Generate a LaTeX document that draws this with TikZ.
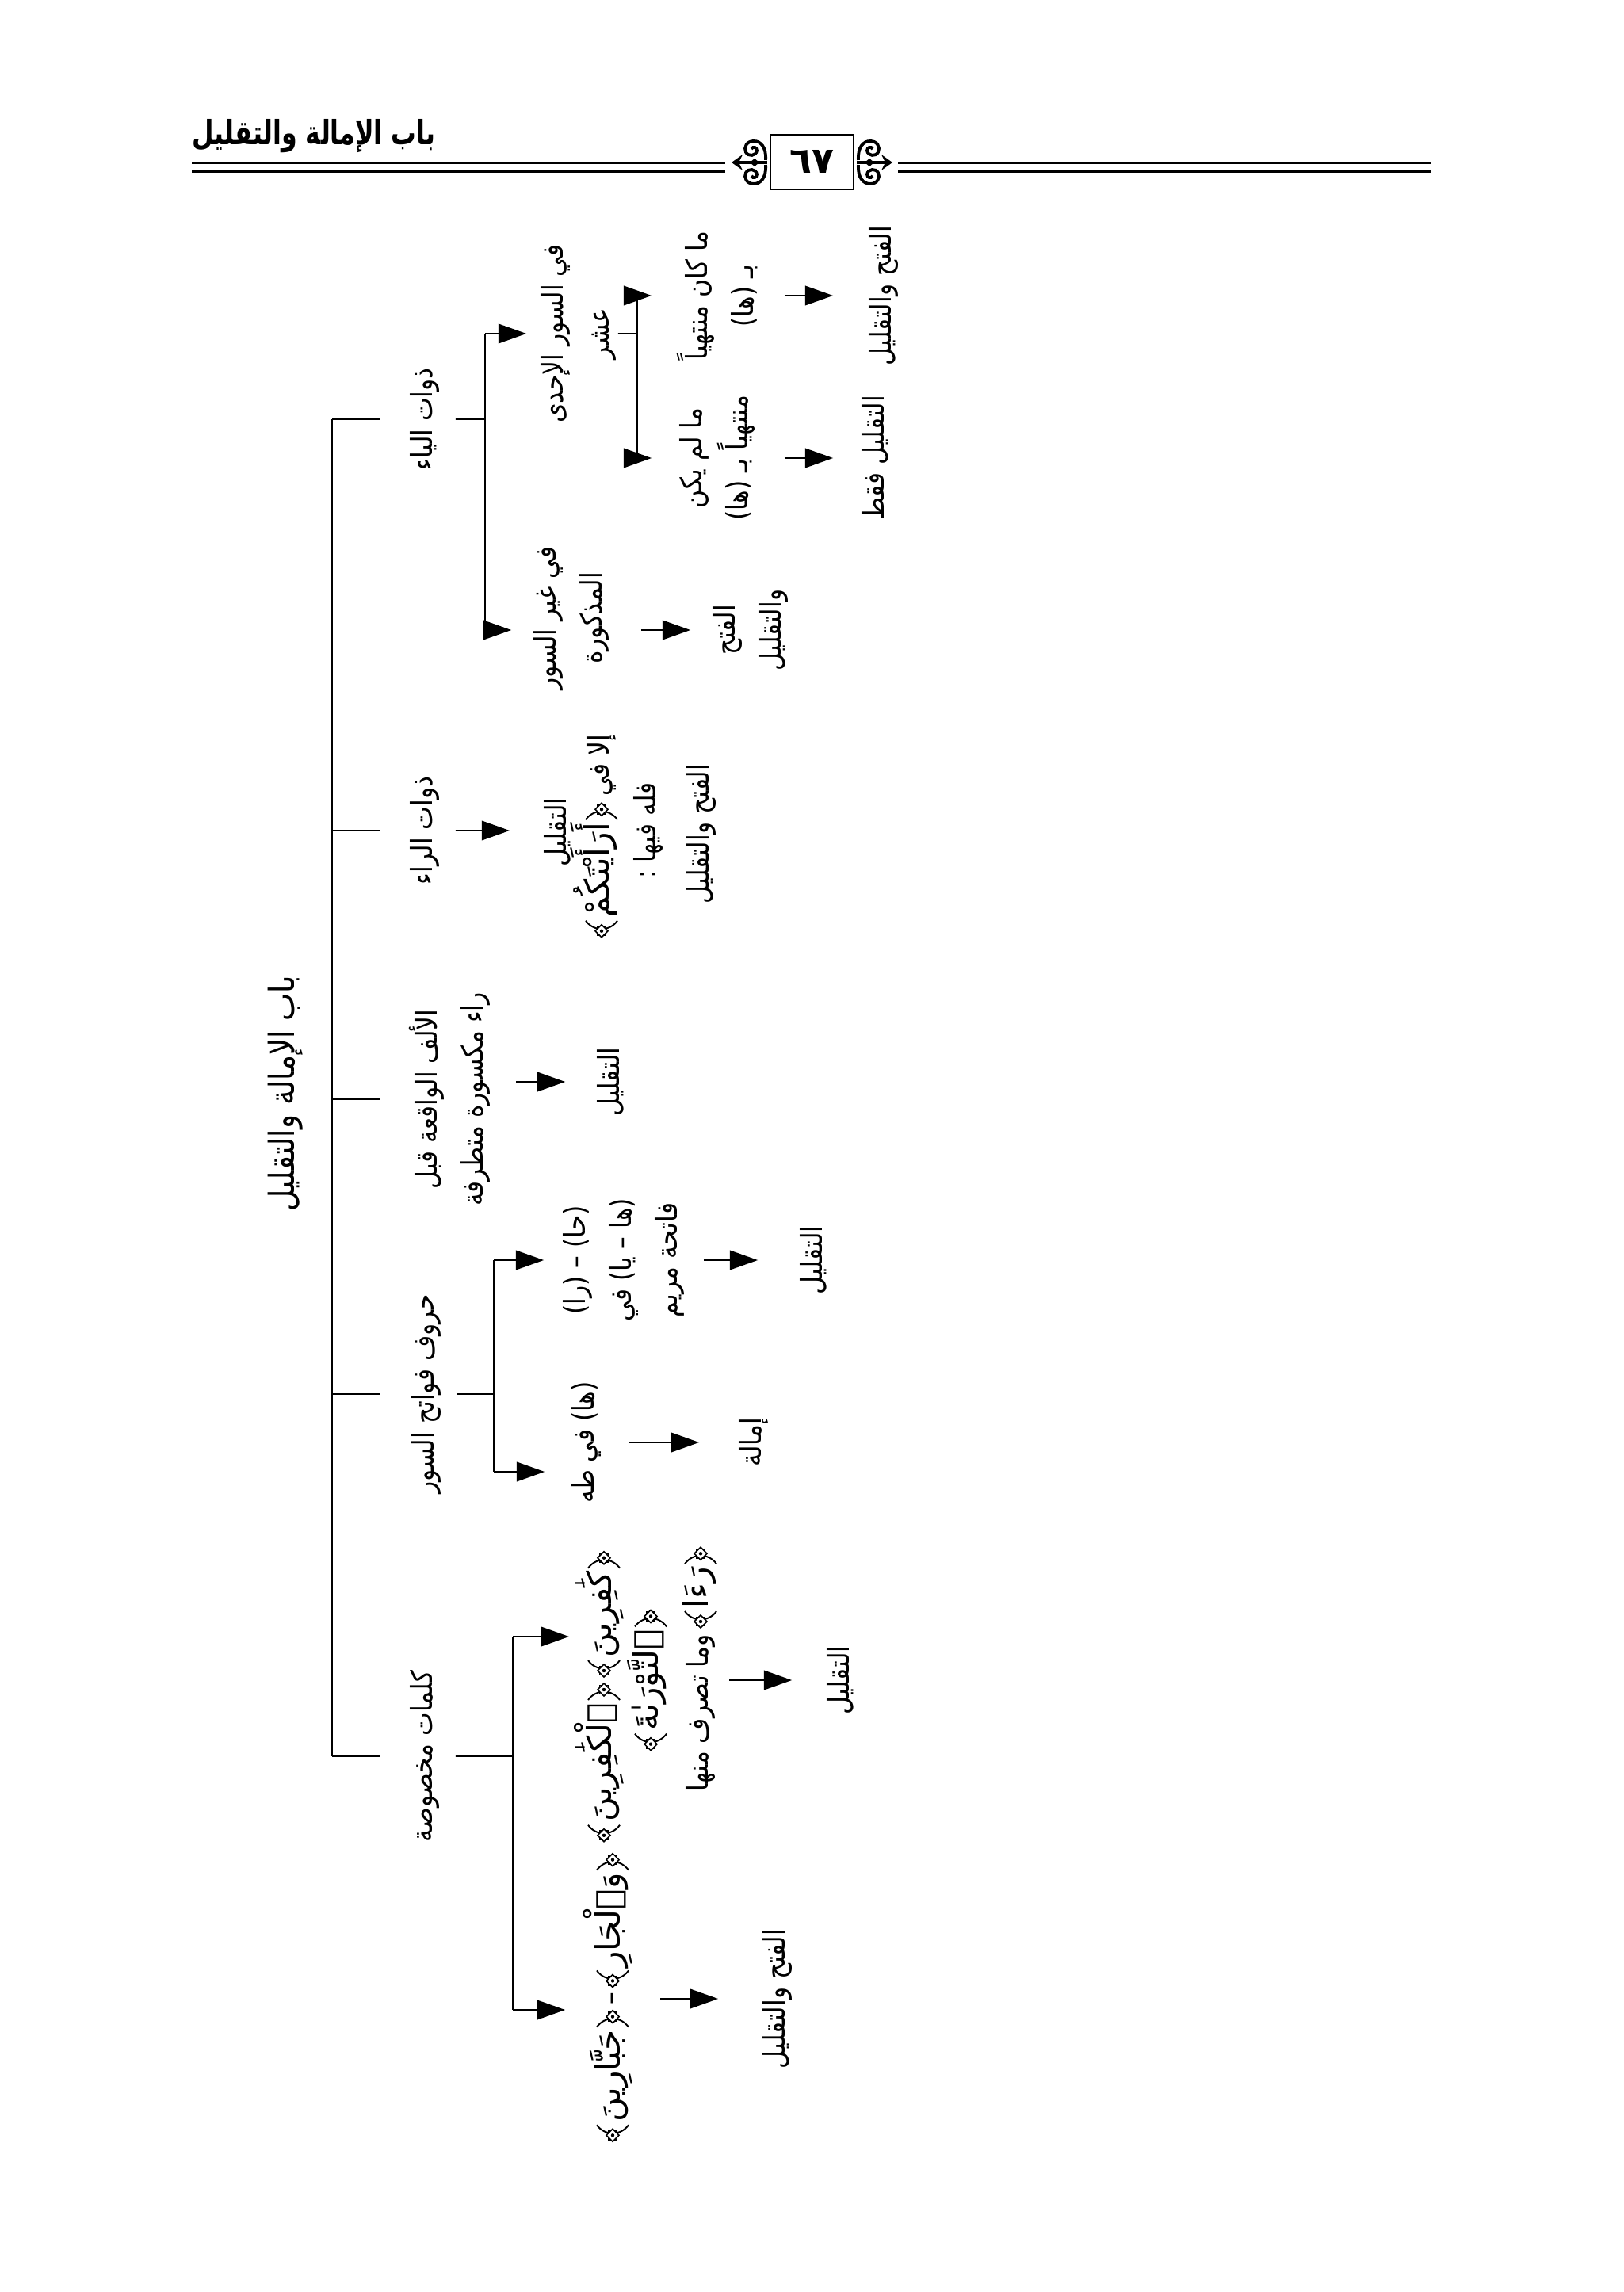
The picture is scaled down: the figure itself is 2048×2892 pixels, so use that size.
\documentclass[tikz,border=0pt]{standalone}
\usepackage{fontspec}
\usetikzlibrary{arrows.meta,calc}
\newfontfamily\arabicfont[Script=Arabic]{DejaVu Sans}
\TeXXeTstate=1
\newcommand{\artxt}[1]{\beginR #1\endR}
% one curl of the page-number ornament
\newcommand{\halforn}{%
  \draw[line width=1.1pt] (966,202) .. controls (967,186) and (960,178) .. (951,178)
    .. controls (942,178) and (938,186) .. (941,192)
    .. controls (944,198) and (954,197) .. (955,190)
    .. controls (955,186) and (950,184) .. (948,188);}
\newcommand{\pageorn}{%
  \halforn
  \begin{scope}[shift={(0,410)}, yscale=-1]\halforn\end{scope}
  \fill (923,205) -- (937,195) -- (932,205) -- (937,215) -- cycle;
  \draw[line width=1.2pt] (932,205) -- (968,205);
  \fill (946,205) -- (952,200) -- (958,205) -- (952,210) -- cycle;}
\begin{document}
\begin{tikzpicture}[x=0.01cm, y=-0.01cm, line width=0.5pt,
  lbl/.style={rotate=90, xscale=0.85, align=center, inner sep=0pt, font=\arabicfont\fontsize{10.5}{16.5}\selectfont},
  qw/.style={rotate=90, inner sep=0pt, font=\arabicfont\fontsize{12}{14}\selectfont},
  arr/.style={-{Triangle[length=10pt,width=7pt]}},
  % ornate Quran brackets (drawn), origin at their top end
  qopen/.pic={
    \draw[line width=0.55pt] (-20,21) .. controls (-10,7) and (10,7) .. (20,21);
    \draw[line width=0.45pt, fill=white] (-5.5,2.5) rectangle (5.5,13.5);
    \draw[line width=0.45pt, fill=white] (0,0) -- (8,8) -- (0,16) -- (-8,8) -- cycle;
    \fill (0,8) circle (2.2);},
  qclose/.pic={
    \draw[line width=0.55pt] (-20,0) .. controls (-10,14) and (10,14) .. (20,0);
    \draw[line width=0.45pt, fill=white] (-5.5,7.5) rectangle (5.5,18.5);
    \draw[line width=0.45pt, fill=white] (0,5) -- (8,13) -- (0,21) -- (-8,13) -- cycle;
    \fill (0,13) circle (2.2);}]
\fill[white] (0,0) rectangle (2048,2892);

% header
\node[anchor=base west, inner sep=0pt, xscale=0.75, font=\arabicfont\bfseries\fontsize{12}{14}\selectfont] (title) at (242,183) {\artxt{باب الإمالة والتقليل}};
\foreach \yy in {205.5,216.5} {
  \draw[line width=0.8pt] (242,\yy) -- (915,\yy);
  \draw[line width=0.8pt] (1133,\yy) -- (1806,\yy);
}
\node[draw, line width=0.75pt, minimum width=1.05cm, minimum height=0.69cm, inner sep=0pt, font=\arabicfont\bfseries\fontsize{13}{15}\selectfont] (pagenum) at (1024.5,204.5) {٦٧};
\pageorn
\begin{scope}[shift={(2049,0)}, xscale=-1]\pageorn\end{scope}

% root and trunk
\node[lbl, font=\arabicfont\fontsize{12.5}{16}\selectfont] (root) at (360,1380) {\artxt{باب الإمالة والتقليل}};
\coordinate (trunkT) at (419,529);
\coordinate (trunkB) at (419,2216);
\draw (trunkT) -- (trunkB);

% first level
\node[lbl, minimum height=0.76cm] (yaa) at (536,529) {\artxt{ذوات الياء}};
\node[lbl, minimum height=0.76cm] (raa) at (536,1048) {\artxt{ذوات الراء}};
\node[lbl, minimum height=1.68cm] (alif) at (567,1387) {\artxt{الألف الواقعة قبل}\\\artxt{راء مكسورة متطرفة}};
\node[lbl, minimum height=0.76cm] (huruf) at (538,1759) {\artxt{حروف فواتح السور}};
\node[lbl, minimum height=0.76cm] (kalimat) at (536,2216) {\artxt{كلمات مخصوصة}};
\foreach \c in {yaa,raa,alif,huruf,kalimat}
  \draw (trunkT |- \c) -- ++(60,0);

% dhawat al-ya
\coordinate (yaaBarT) at (612,421);
\coordinate (yaaBarB) at (612,795);
\node[lbl, minimum height=1.3cm] (ahad) at (730,421) {\artxt{في السور الإحدى}\\\artxt{عشر}};
\node[lbl, minimum height=1.3cm] (ghayr) at (721,780) {\artxt{في غير السور}\\\artxt{المذكورة}};
\node[lbl, minimum height=1.5cm] (fathB) at (947,795) {\artxt{الفتح}\\\artxt{والتقليل}};
\coordinate (ahadBarT) at (804,373);
\coordinate (ahadBarB) at (804,578);
\node[lbl, minimum height=1.3cm] (kana) at (905,373) {\artxt{ما كان منتهياً}\\\artxt{بـ (ها)}};
\node[lbl, minimum height=1.3cm] (lam) at (905,578) {\artxt{ما لم يكن}\\\artxt{منتهياً بـ (ها)}};
\node[lbl, minimum height=1.26cm] (fathA) at (1115,373) {\artxt{الفتح والتقليل}};
\node[lbl, minimum height=1.04cm] (faqat) at (1104,578) {\artxt{التقليل فقط}};
\draw (yaa) -- (yaa -| yaaBarT);
\draw (yaaBarT) -- (yaaBarB);
\draw[arr] (yaaBarT) -- (ahad);
\draw[arr, shorten >=0.1cm] (yaaBarB) -- (yaaBarB -| ghayr.north);
\draw[arr, shorten <=0.22cm] (ghayr.south |- fathB) -- (fathB);
\draw[shorten <=-0.16cm] (ahad) -- (ahad -| ahadBarT);
\draw (ahadBarT) -- (ahadBarB);
\draw[arr, shorten >=0.17cm] (ahadBarT) -- (kana);
\draw[arr, shorten >=0.17cm] (ahadBarB) -- (lam);
\draw[arr, shorten <=0.19cm] (kana) -- (fathA);
\draw[arr, shorten <=0.19cm] (lam) -- (faqat);

% dhawat al-ra and al-alif
\coordinate (raaTL) at (643,1048);
\node[lbl] (raaT1) at (703,1050) {\artxt{التقليل}};
\node[qw, anchor=base] (raaT2b) at (768,1098) {أَرَأَيْتَكُمْ};
\node[lbl, anchor=base west] (raaT2a) at ($(raaT2b.base east)+(0,-32)$) {\artxt{إلا في}};
\pic at ($(raaT2b.base east)+(-9,-24)$) {qopen};
\pic at ($(raaT2b.base west)+(-9,3)$) {qclose};
\node[lbl] (raaT3) at (818,1048) {\artxt{فله فيها :}};
\node[lbl] (raaT4) at (885,1052) {\artxt{الفتح والتقليل}};
\node[lbl, minimum height=1.12cm] (alifT) at (770,1365) {\artxt{التقليل}};
\draw[arr] (raa) -- (raaTL);
\draw[arr, shorten <=0.84cm] (alif.center |- alifT) -- (alifT);

% huruf fawatih al-suwar
\coordinate (hurufBarT) at (623,1590);
\coordinate (hurufBarB) at (623,1857);
\node[lbl, minimum height=2cm] (hara) at (787,1590) {\artxt{(حا) – (را)}\\\artxt{(ها – يا) في}\\\artxt{فاتحة مريم}};
\node[lbl, minimum height=1.38cm] (haraT) at (1026,1590) {\artxt{التقليل}};
\node[lbl, minimum height=1.04cm] (hataha) at (740,1820) {\artxt{(ها) في طه}};
\node[lbl, minimum height=1.36cm] (imala) at (951,1820) {\artxt{إمالة}};
\draw (huruf) -- (huruf -| hurufBarT);
\draw (hurufBarT) -- (hurufBarB);
\draw[arr] (hurufBarT) -- (hara);
\draw[arr] (hurufBarB) -- (hurufBarB -| hataha.north);
\draw[arr] (hara) -- (haraT);
\draw[arr] (hataha) -- (imala);

% kalimat makhsusa
\coordinate (kalBarT) at (647,2065);
\coordinate (kalBarB) at (647,2536);
\coordinate (kafirinL) at (718,2065);
\coordinate (kafirinR) at (920,2120);
\node[qw, anchor=base west] (kaf1a) at (771,2092) {كَٰفِرِينَ};
\pic at ($(kaf1a.base east)+(-9,-24)$) {qopen};
\pic at ($(kaf1a.base west)+(-9,3)$) {qclose};
\node[qw, anchor=base east] (kaf1b) at (771,2148) {ٱلْكَٰفِرِينَ};
\pic at ($(kaf1b.base east)+(-9,-24)$) {qopen};
\pic at ($(kaf1b.base west)+(-9,3)$) {qclose};
\node[qw, anchor=base] (kaf2) at (830,2120) {ٱلتَّوْرَىٰةَ};
\pic at ($(kaf2.base east)+(-9,-24)$) {qopen};
\pic at ($(kaf2.base west)+(-9,3)$) {qclose};
\node[lbl, anchor=base east] (kaf3b) at (893,2062) {\artxt{وما تصرف منها}};
\node[qw, anchor=base west] (kaf3a) at ($(kaf3b.base east)+(0,-32)$) {رَءَا};
\pic at ($(kaf3a.base east)+(-9,-24)$) {qopen};
\pic at ($(kaf3a.base west)+(-9,3)$) {qclose};
\node[lbl, minimum height=1.2cm] (kafirinT) at (1060,2120) {\artxt{التقليل}};
\coordinate (jabbarL) at (713,2536);
\coordinate (jabbarR) at (833,2522);
\node[lbl, anchor=base] (jabDash) at (782,2522) {–};
\node[qw, anchor=base west] (jab1) at ($(jabDash.base east)+(0,-30)$) {وَٱلْجَارِ};
\pic at ($(jab1.base east)+(-9,-24)$) {qopen};
\pic at ($(jab1.base west)+(-9,3)$) {qclose};
\node[qw, anchor=base east] (jab2) at ($(jabDash.base west)+(0,30)$) {جَبَّارِينَ};
\pic at ($(jab2.base east)+(-9,-24)$) {qopen};
\pic at ($(jab2.base west)+(-9,3)$) {qclose};
\node[lbl, minimum height=1.48cm] (jabbarT) at (981,2522) {\artxt{الفتح والتقليل}};
\draw (kalimat) -- (kalimat -| kalBarT);
\draw (kalBarT) -- (kalBarB);
\draw[arr] (kalBarT) -- (kafirinL);
\draw[arr] (kalBarB) -- (jabbarL);
\draw[arr] (kafirinR) -- (kafirinT);
\draw[arr] (jabbarR) -- (jabbarT);
\end{tikzpicture}
\end{document}
